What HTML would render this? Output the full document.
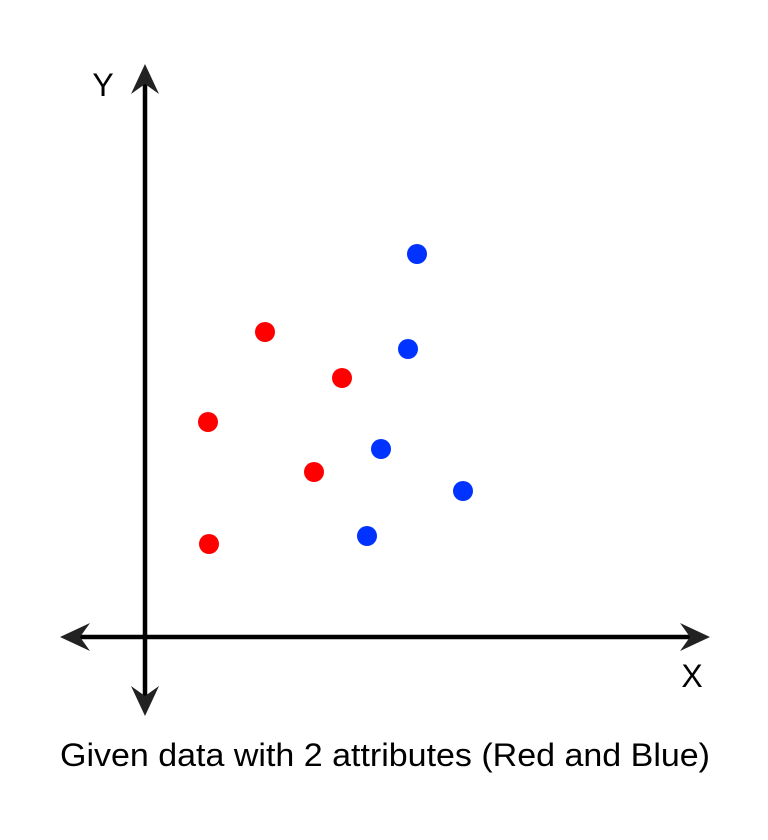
<!DOCTYPE html>
<html><head><meta charset="utf-8"><style>
html,body{margin:0;padding:0;background:#fff;}
svg{display:block;font-family:"Liberation Sans",sans-serif;}
</style></head><body>
<svg id="chart" width="768" height="840" viewBox="0 0 768 840">
<rect width="768" height="840" fill="#fff"/>
<g>
<line x1="78" y1="637" x2="692" y2="637" stroke="#000" stroke-width="4.5"/>
<polygon points="60,637 90,623 80,637 90,651" fill="#222"/>
<polygon points="710,637 680,623 690,637 680,651" fill="#222"/>
</g>
<g>
<line x1="145" y1="80" x2="145" y2="698" stroke="#000" stroke-width="4.5"/>
<polygon points="145,64 131,94 145,84 159,94" fill="#222"/>
<polygon points="145,716 131,686 145,696 159,686" fill="#222"/>
</g>
<text x="103" y="96" font-size="32" text-anchor="middle">Y</text>
<text x="692" y="687" font-size="32" text-anchor="middle">X</text>
<text x="60" y="766" font-size="32" textLength="650" lengthAdjust="spacingAndGlyphs">Given data with 2 attributes (Red and Blue)</text>
<g id="points"></g>
</svg>
<script>
const redX=[6.4,12.1,19.8,17.0,6.5];
const redY=[21.6,30.6,26.0,16.6,9.4];
const blueX=[27.3,26.4,23.7,31.9,22.3];
const blueY=[38.4,28.9,18.9,14.7,10.2];
function sx(v){return 144+v*10;}
function sy(v){return 638-v*10;}
const g=document.getElementById('points');
function draw(xs,ys,color,name){
  for(let i=0;i<xs.length;i++){
    const c=document.createElementNS('http://www.w3.org/2000/svg','circle');
    c.setAttribute('cx',sx(xs[i]));c.setAttribute('cy',sy(ys[i]));
    c.setAttribute('r',10);c.setAttribute('fill',color);
    
    
    g.appendChild(c);
  }
}
draw(redX,redY,'#ff0000','red-point');
draw(blueX,blueY,'#0033ff','blue-point');
</script>
</body></html>
